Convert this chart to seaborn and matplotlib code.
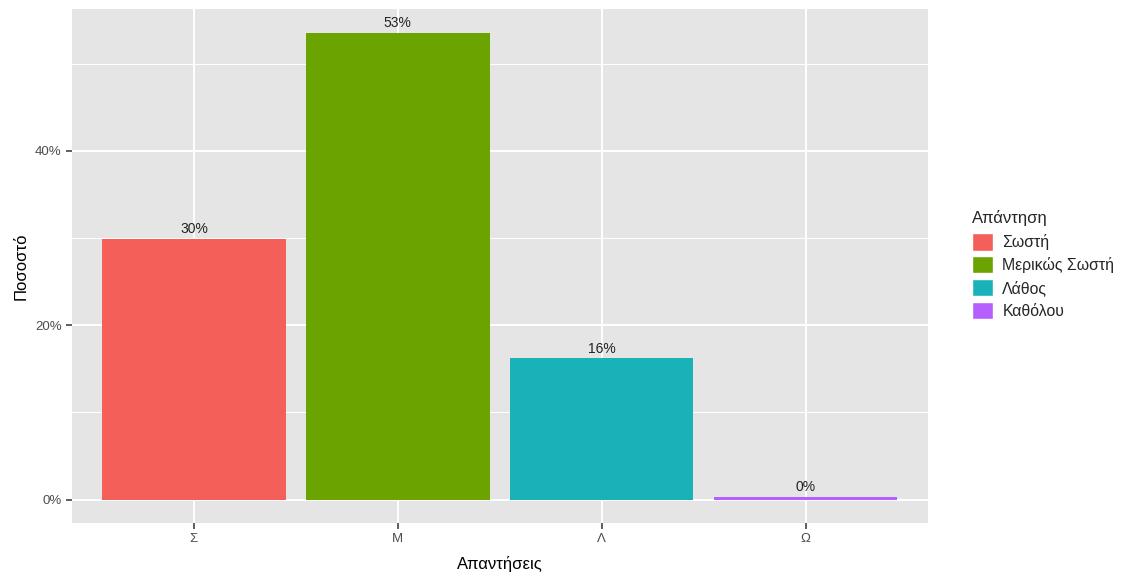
import matplotlib
matplotlib.use("Agg")
import matplotlib.pyplot as plt
from matplotlib.ticker import MultipleLocator, FuncFormatter
from matplotlib.patches import Patch
import seaborn as sns
import pandas as pd

categories = ["Σ", "Μ", "Λ", "Ω"]
answers = ["Σωστή", "Μερικώς Σωστή", "Λάθος", "Καθόλου"]
percent = [29.9, 53.55, 16.2, 0.35]
value_labels = ["30%", "53%", "16%", "0%"]
colors = ["#F45F5A", "#6BA300", "#19B2B8", "#B65FFF"]

sns.set_theme(style="darkgrid")
plt.rcParams["font.family"] = ["Liberation Sans", "DejaVu Sans"]

df = pd.DataFrame({"cat": categories, "ans": answers, "pct": percent})

fig = plt.figure(figsize=(11.22, 5.73), dpi=100)
L, R, T, B = 71.5, 928, 9.3, 523
ax = fig.add_axes([L/1122, 1-B/573, (R-L)/1122, (B-T)/573])
ax.set_facecolor("#E5E5E5")

sns.barplot(data=df, x="cat", y="pct", hue="ans", hue_order=answers,
            palette=dict(zip(answers, colors)), dodge=False, width=0.9,
            saturation=1, ax=ax, legend=False, zorder=3)

for p in ax.patches:
    p.set_edgecolor("none")
for c in ax.containers:
    for bar in c:
        h = bar.get_height()
        if h != h:
            continue
        xc = bar.get_x() + bar.get_width()/2
        idx = int(round(xc))
        ax.annotate(value_labels[idx], (xc, h),
                    xytext=(0, 2), textcoords="offset points",
                    ha="center", va="bottom", fontsize=10, color="#222222")

ymax = max(percent)
ax.set_ylim(-0.05*ymax, 1.05*ymax)
ax.set_xlim(-0.6, len(categories) - 1 + 0.6)
ax.yaxis.set_major_locator(MultipleLocator(20))
ax.yaxis.set_minor_locator(MultipleLocator(10))
ax.yaxis.set_major_formatter(FuncFormatter(lambda v, _: f"{v:.0f}%"))
ax.grid(which="major", color="white", linewidth=1.4)
ax.grid(which="minor", axis="y", color="white", linewidth=0.7)
ax.set_axisbelow(True)
for s in ax.spines.values():
    s.set_visible(False)
ax.tick_params(axis="both", which="major", length=4, width=1.1, color="#333333",
               labelsize=9.5, labelcolor="#4D4D4D", pad=3, left=True, bottom=True)
ax.tick_params(axis="y", which="minor", length=0)
ax.set_xlabel("Απαντήσεις", fontsize=12, color="black", labelpad=8)
ax.set_ylabel("Ποσοστό", fontsize=12, color="black", labelpad=5)

handles = [Patch(facecolor=c, edgecolor="white", label=a) for a, c in zip(answers, colors)]
leg = fig.legend(handles=handles, title="Απάντηση", loc="upper left",
                 bbox_to_anchor=(966/1122, 1-204/573), frameon=False,
                 fontsize=11.4, title_fontsize=12, handlelength=1.3, handleheight=1.3,
                 labelspacing=0.36, handletextpad=0.6, borderaxespad=0)
leg._legend_box.align = "left"
leg._legend_box.sep = 5

fig.savefig("out.png", dpi=100)
